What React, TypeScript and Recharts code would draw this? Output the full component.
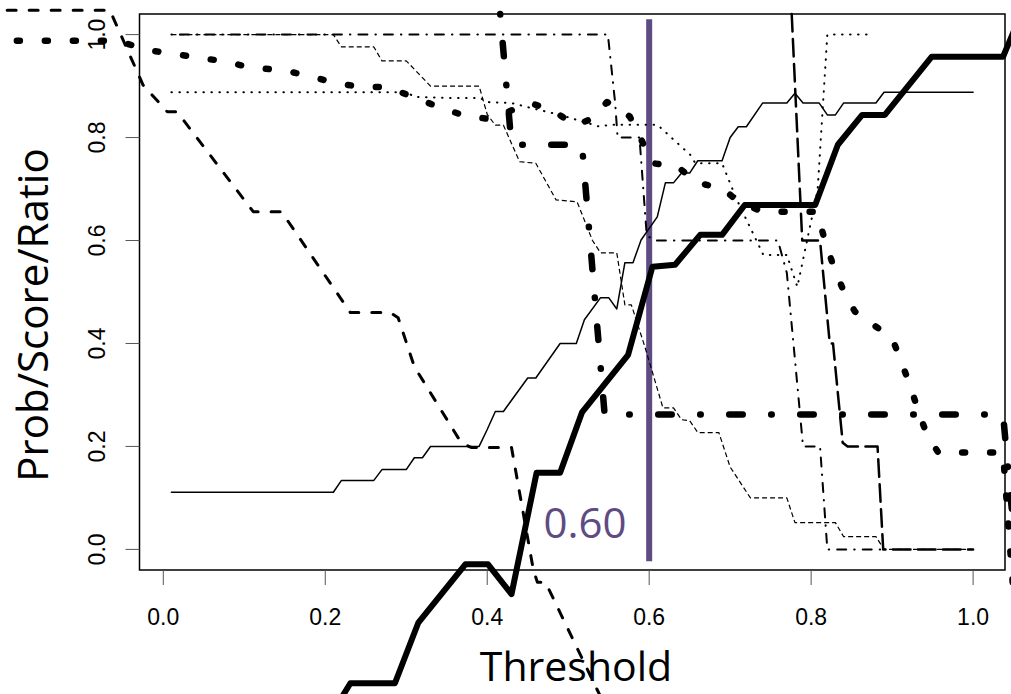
import { LineChart, Line, XAxis, YAxis, ReferenceLine, ReferenceArea } from "recharts";

// axis ticks
const thresholdTicks = [0, 0.2, 0.4, 0.6, 0.8, 1.0];
const valueTicks = [0, 0.2, 0.4, 0.6, 0.8, 1.0];
const chosenThreshold = 0.6;

// series, [threshold, value]
const thinSolid = [
  [0.01, 0.111], [0.21, 0.111], [0.22, 0.134], [0.26, 0.134], [0.27, 0.155], [0.30, 0.155],
  [0.31, 0.178], [0.32, 0.178], [0.33, 0.2], [0.39, 0.2], [0.40, 0.233], [0.41, 0.268],
  [0.42, 0.268], [0.45, 0.333], [0.46, 0.333], [0.49, 0.4], [0.51, 0.4], [0.52, 0.446],
  [0.54, 0.489], [0.55, 0.489], [0.56, 0.467], [0.57, 0.557], [0.58, 0.557], [0.59, 0.601],
  [0.61, 0.646], [0.62, 0.712], [0.63, 0.712], [0.64, 0.731], [0.65, 0.731], [0.66, 0.755],
  [0.69, 0.755], [0.70, 0.8], [0.71, 0.821], [0.72, 0.821], [0.74, 0.867], [0.77, 0.867],
  [0.78, 0.886], [0.79, 0.867], [0.81, 0.867], [0.82, 0.844], [0.83, 0.844], [0.84, 0.867],
  [0.88, 0.867], [0.89, 0.888], [1.0, 0.888],
];

const thickSolid = [
  [0.20, -0.34], [0.231, -0.26], [0.286, -0.26], [0.315, -0.142], [0.373, -0.029], [0.401, -0.029],
  [0.43, -0.087], [0.461, 0.149], [0.49, 0.149], [0.517, 0.266], [0.574, 0.378], [0.604, 0.549],
  [0.632, 0.553], [0.663, 0.611], [0.69, 0.611], [0.718, 0.669], [0.805, 0.669], [0.833, 0.786],
  [0.863, 0.844], [0.891, 0.844], [0.949, 0.957], [1.037, 0.957], [1.07, 1.08],
];

const dashedMid = [
  [-0.22, 1.0475], [-0.066, 1.0475], [-0.025, 0.902], [0.005, 0.85], [0.017, 0.85], [0.111, 0.656],
  [0.146, 0.656], [0.231, 0.46], [0.28, 0.46], [0.29, 0.45], [0.31, 0.355], [0.368, 0.207],
  [0.38, 0.198], [0.43, 0.198], [0.457, -0.04], [0.462, -0.064], [0.472, -0.064], [0.535, -0.27],
  [0.56, -0.35],
];

const thickDotted = [
  [-0.25, 0.988], [-0.056, 0.988], [-0.02, 0.97], [0.011, 0.963], [0.045, 0.955], [0.079, 0.947],
  [0.11, 0.935], [0.144, 0.932], [0.177, 0.921], [0.209, 0.907], [0.245, 0.898], [0.277, 0.898],
  [0.308, 0.879], [0.339, 0.86], [0.373, 0.842], [0.403, 0.836], [0.453, 0.867], [0.481, 0.853],
  [0.508, 0.824], [0.529, 0.836], [0.548, 0.869], [0.576, 0.841], [0.589, 0.8], [0.604, 0.75],
  [0.634, 0.745], [0.659, 0.712], [0.69, 0.702], [0.712, 0.673], [0.741, 0.656], [0.807, 0.656],
  [0.817, 0.6], [0.827, 0.553], [0.839, 0.506], [0.854, 0.462], [0.877, 0.436], [0.9, 0.411],
  [0.911, 0.365], [0.922, 0.32], [0.932, 0.27], [0.942, 0.227], [0.957, 0.188], [1.037, 0.188],
  [1.06, -0.3],
];

const thickDashDot = [
  [0.416, 1.04], [0.43, 0.786], [0.517, 0.786], [0.545, 0.262], [1.037, 0.262], [1.07, -0.3],
];

const thinDashDot = [
  [0.01, 1.0], [0.549, 1.0], [0.558, 0.867], [0.561, 0.8], [0.588, 0.8], [0.597, 0.61],
  [0.607, 0.6], [0.759, 0.6], [0.77, 0.537], [0.786, 0.268], [0.79, 0.2], [0.811, 0.2],
  [0.82, 0.0], [0.89, 0.0],
];

const thinDotted = [
  [0.01, 0.888], [0.301, 0.888], [0.31, 0.879], [0.354, 0.877], [0.391, 0.877], [0.40, 0.869],
  [0.43, 0.867], [0.455, 0.857], [0.49, 0.844], [0.539, 0.821], [0.552, 0.825], [0.61, 0.825],
  [0.651, 0.766], [0.657, 0.75], [0.69, 0.75], [0.708, 0.68], [0.741, 0.572], [0.77, 0.572],
  [0.783, 0.51], [0.808, 0.698], [0.82, 1.0], [0.873, 1.0],
];

const thinDashed = [
  [0.01, 1.0], [0.21, 1.0], [0.22, 0.976], [0.26, 0.976], [0.27, 0.949], [0.30, 0.949],
  [0.33, 0.9], [0.39, 0.9], [0.40, 0.845], [0.41, 0.824], [0.42, 0.824], [0.44, 0.753],
  [0.46, 0.75], [0.485, 0.679], [0.511, 0.675], [0.53, 0.6], [0.54, 0.576], [0.56, 0.576],
  [0.57, 0.475], [0.578, 0.475], [0.595, 0.392], [0.617, 0.275], [0.63, 0.275], [0.64, 0.252],
  [0.65, 0.25], [0.66, 0.227], [0.686, 0.227], [0.70, 0.16], [0.725, 0.1], [0.77, 0.1],
  [0.78, 0.052], [0.83, 0.052], [0.84, 0.025], [0.88, 0.025], [0.89, 0.0], [1.0, 0.0],
];

const longDash = [
  [0.776, 1.04], [0.789, 0.6], [0.811, 0.6], [0.823, 0.4], [0.827, 0.4], [0.839, 0.207],
  [0.845, 0.2], [0.882, 0.2], [0.889, 0.0], [1.0, 0.0],
];

const toPoints = (arr: number[][]) => arr.map(([x, y]) => ({ x, y }));

const series = [
  { name: "thinDashed", data: thinDashed, width: 1.2, dash: "5 3", cap: "butt" },
  { name: "thinDotted", data: thinDotted, width: 2, dash: "0.5 7.5", cap: "round" },
  { name: "thinDashDot", data: thinDashDot, width: 2, dash: "0.5 8 9 8", cap: "round" },
  { name: "longDash", data: longDash, width: 2.5, dash: "17.5 7.5", cap: "round" },
  { name: "thinSolid", data: thinSolid, width: 1.5, dash: undefined, cap: "round" },
  { name: "dashedMid", data: dashedMid, width: 3, dash: "9 13", cap: "round" },
  { name: "thickDotted", data: thickDotted, width: 6.5, dash: "3 25", cap: "round" },
  { name: "thickDashDot", data: thickDashDot, width: 6.5, dash: "0.5 28.5 13.5 28.5", cap: "round" },
  { name: "thickSolid", data: thickSolid, width: 6, dash: undefined, cap: "round" },
];

const purple = "#5e4b82";
const tickFont = "'Liberation Sans', Arial, Helvetica, sans-serif";
const titleFont = "'Open Sans', 'Noto Sans', sans-serif";

const XTick = (props: any) => (
  <text x={props.x} y={props.y + 40} textAnchor="middle" fontSize={23} fontFamily={tickFont} fill="#000">
    {Number(props.payload.value).toFixed(1)}
  </text>
);

const YTick = (props: any) => {
  const x = props.x - 20;
  return (
    <text
      x={x}
      y={props.y}
      transform={`rotate(-90 ${x} ${props.y})`}
      textAnchor="middle"
      fontSize={23}
      fontFamily={tickFont}
      fill="#000"
    >
      {Number(props.payload.value).toFixed(1)}
    </text>
  );
};

export default function App() {
  return (
    <div style={{ position: "absolute", left: 0, top: 0, width: 1011, height: 694, background: "#fff" }}>
      <style>{`.recharts-line, .recharts-layer, .recharts-curve { clip-path: none !important; }`}</style>
      <LineChart width={1011} height={694} margin={{ top: 14, right: 6, bottom: 0, left: 0 }}>
        <XAxis
          type="number"
          dataKey="x"
          domain={[-0.0294, 1.0394]}
          allowDataOverflow
          ticks={thresholdTicks}
          interval={0}
          height={124}
          axisLine={false}
          tickLine={{ stroke: "#555", strokeWidth: 1 }}
          tickSize={15}
          tickMargin={0}
          tick={XTick}
        />
        <YAxis
          type="number"
          dataKey="y"
          domain={[-0.04, 1.04]}
          allowDataOverflow
          ticks={valueTicks}
          interval={0}
          width={139.5}
          axisLine={false}
          tickLine={{ stroke: "#555", strokeWidth: 1 }}
          tickSize={14}
          tickMargin={0}
          tick={YTick}
        />
        <ReferenceArea
          x1={-0.0294}
          x2={1.0394}
          y1={-0.04}
          y2={1.04}
          fill="none"
          fillOpacity={0}
          stroke="#000"
          strokeWidth={1.5}
          ifOverflow="visible"
        />
        <ReferenceLine
          segment={[{ x: chosenThreshold, y: -0.023 }, { x: chosenThreshold, y: 1.03 }]}
          stroke={purple}
          strokeWidth={6}
          ifOverflow="visible"
        />
        {series.map((s) => (
          <Line
            key={s.name}
            data={toPoints(s.data)}
            dataKey="y"
            type="linear"
            stroke="#000"
            strokeWidth={s.width}
            strokeDasharray={s.dash}
            strokeLinecap={s.cap as any}
            strokeLinejoin="round"
            dot={false}
            activeDot={false}
            isAnimationActive={false}
          />
        ))}
      </LineChart>
      <svg width={1011} height={694} style={{ position: "absolute", left: 0, top: 0, pointerEvents: "none" }}>
        <text x={576} y={681} textAnchor="middle" fontSize={41} fontFamily={titleFont} fill="#000">
          Threshold
        </text>
        <text
          x={48}
          y={315}
          transform="rotate(-90 48 315)"
          textAnchor="middle"
          fontSize={42}
          fontFamily={titleFont}
          fill="#000"
        >
          Prob/Score/Ratio
        </text>
        <text x={585} y={538} textAnchor="middle" fontSize={42} fontFamily={titleFont} fill={purple}>
          {chosenThreshold.toFixed(2)}
        </text>
      </svg>
    </div>
  );
}
